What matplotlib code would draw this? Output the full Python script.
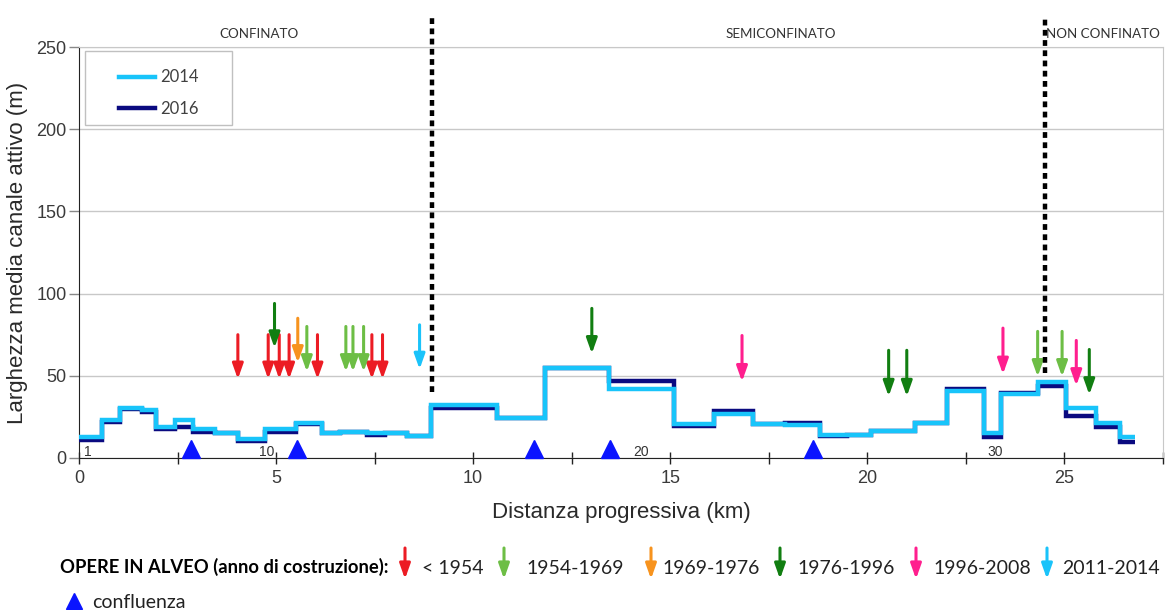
import matplotlib
matplotlib.use("Agg")
import matplotlib.pyplot as plt
from matplotlib.lines import Line2D
from matplotlib.patches import Rectangle, FancyArrowPatch
from matplotlib.ticker import MultipleLocator

# step edges (km) shared by both surveys
edges = [0, 0.58, 1.04, 1.59, 1.95, 2.44, 2.88, 3.45, 4.04, 4.72,
         5.5, 6.16, 6.62, 7.3, 7.77, 8.32, 8.93, 10.6, 11.81, 13.44,
         15.09, 16.1, 17.1, 17.9, 18.79, 19.48, 20.08, 21.2, 22.02, 22.95,
         23.4, 24.33, 25.05, 25.8, 26.4, 26.8]
w2014 = [12.5, 23, 30.5, 29, 19, 23, 17.5, 15.5, 11.5, 17.5,
         21.5, 15.5, 16, 15.5, 15.5, 13.5, 32, 24.5, 55, 42,
         20.5, 27, 20.5, 20, 14, 14, 16.5, 21, 40.5, 15,
         39, 46.5, 30.5, 21, 12.5]
w2016 = [11, 22, 30, 28, 17.5, 19, 16, 15.5, 10.5, 16,
         20.5, 15, 16, 14, 15.5, 13.5, 30.5, 24.5, 55, 47,
         19.5, 28.5, 20.5, 21.5, 13.5, 14, 16.5, 21, 42, 13,
         39.5, 44, 25.5, 19, 10]

# works in river bed: x position, arrow top, arrow tip
arr_cats = ['< 1954', '1954-1969', '1969-1976', '1976-1996', '1996-2008', '2011-2014']
arr_cols = ['#EC1C24', '#6DBE45', '#F7931E', '#117E11', '#FF1F8E', '#1AC3FA']
arr_x = [[4.03, 4.8, 5.08, 5.33, 6.05, 7.43, 7.7],
         [5.78, 6.77, 6.95, 7.22, 24.32, 24.94],
         [5.55],
         [4.96, 13.01, 20.54, 21.0, 25.63],
         [16.82, 23.44, 25.3],
         [8.64]]
arr_top = [[75, 75, 75, 75, 75, 75, 75],
           [80, 80, 80, 80, 77, 77],
           [85],
           [94, 91, 65.5, 65.5, 66],
           [74.5, 79, 71.5],
           [81]]
arr_tip = [[48, 48, 48, 48, 48, 48, 48],
           [52.5, 52.5, 52.5, 52.5, 49.5, 49.5],
           [58],
           [67, 63.5, 37.5, 37.5, 38.5],
           [46.5, 51, 44],
           [54]]

confluences = [2.84, 5.53, 11.55, 13.48, 18.63]

section_x = [0.23, 4.75, 14.27, 23.25]
section_lab = ['1', '10', '20', '30']

bounds = [8.96, 24.5]
bound_low = [40, 52]
regions = ['CONFINATO', 'SEMICONFINATO', 'NON CONFINATO']
region_x = [4.57, 17.8, 25.98]

fig = plt.figure(figsize=(11.68, 6.10), dpi=100)
ax = fig.add_axes([79 / 1168, 1 - 458 / 610, 1084 / 1168, 411 / 610])

ax.set_xlim(0, 27.5)
ax.set_ylim(0, 250)
ax.yaxis.grid(True, color='#c8c8c8', lw=1)
ax.set_axisbelow(True)
ax.xaxis.set_major_locator(MultipleLocator(5))
ax.xaxis.set_minor_locator(MultipleLocator(2.5))
ax.yaxis.set_major_locator(MultipleLocator(50))
ax.tick_params(axis='x', which='both', direction='inout', length=9, width=1, color='#222222',
               labelsize=13, labelcolor='#3a3a3a', pad=4)
ax.tick_params(axis='y', direction='out', length=7, width=1, color='#888888',
               labelsize=13, labelcolor='#3a3a3a', pad=2)
for lab in ax.get_xticklabels() + ax.get_yticklabels():
    lab.set_family('Liberation Sans')
ax.spines['left'].set_color('#222222')
ax.spines['bottom'].set_color('#222222')
ax.spines['top'].set_color('#c8c8c8')
ax.spines['right'].set_color('#c8c8c8')

ax.set_xlabel('Distanza progressiva (km)', fontsize=16, family='Liberation Sans', color='#2a2a2a', labelpad=11)
ax.set_ylabel('Larghezza media canale attivo (m)', fontsize=16, family='Liberation Sans', color='#2a2a2a', labelpad=6)

ax.stairs(w2016, edges, baseline=None, color='#0A0A80', lw=3.2, label='2016', zorder=3)
ax.stairs(w2014, edges, baseline=None, color='#18C4FA', lw=3.2, label='2014', zorder=4)

for xs, tops, tips, c in zip(arr_x, arr_top, arr_tip, arr_cols):
    for x, t0, t1 in zip(xs, tops, tips):
        ax.annotate('', xy=(x, t1), xytext=(x, t0),
                    arrowprops=dict(arrowstyle='-|>,head_length=0.9,head_width=0.32',
                                    color=c, lw=2.2, shrinkA=0, shrinkB=0, mutation_scale=10),
                    zorder=5)

ax.plot(confluences, [5.5] * len(confluences), ls='none', marker='^', ms=13,
        color='#0a14ff', clip_on=False, zorder=6)

for x, s in zip(section_x, section_lab):
    ax.text(x, 3.7, s, fontsize=10, color='#333333', ha='center', va='center', family='Liberation Sans')

for x, lo in zip(bounds, bound_low):
    ax.plot([x, x], [lo, 269], color='black', lw=3.2, ls=(0, (1.3, 1.0)), clip_on=False, zorder=5)

for x, s in zip(region_x, regions):
    ax.text(x, 258, s, fontsize=9.6, color='#333333', ha='center', va='center', family='Lato')

# legend of the two surveys
ax.add_patch(Rectangle(((85 - 79) / 1084, (458 - 125) / 411), 147 / 1084, 74 / 411,
                       transform=ax.transAxes, fill=True, facecolor='white',
                       edgecolor='#c0c0c0', lw=1, zorder=7))
handles = [Line2D([], [], color='#18C4FA', lw=3.2), Line2D([], [], color='#0A0A80', lw=3.2)]
leg = ax.legend(handles, ['2014', '2016'], loc='upper left',
                bbox_to_anchor=((111 - 79) / 1084, (458 - 61) / 411),
                frameon=False, borderpad=0, handlelength=2.15, handletextpad=0.3,
                labelspacing=0.95, prop={'family': 'Lato', 'size': 12})
leg.set_zorder(8)
for t in leg.get_texts():
    t.set_color('#404040')

# bottom legend of works
title = fig.text(60 / 1168, 1 - 567 / 610, 'OPERE IN ALVEO (anno di costruzione):', fontsize=13,
                 fontweight='bold', family='Lato', va='center', ha='left')
fig.canvas.draw()
bb = title.get_window_extent()
title.set_fontsize(13 * 327 / bb.width)

leg_arrow_x = [405, 504, 651, 780, 916, 1047]
leg_text_x = [422, 526, 662, 797, 933, 1062]
for axx, tx, c, s in zip(leg_arrow_x, leg_text_x, arr_cols, arr_cats):
    fig.patches.append(FancyArrowPatch(
        (axx / 1168, 1 - 548 / 610), (axx / 1168, 1 - 579 / 610), transform=fig.transFigure,
        arrowstyle='-|>,head_length=0.9,head_width=0.32', color=c, lw=2.2,
        shrinkA=0, shrinkB=0, mutation_scale=10))
    fig.text(tx / 1168, 1 - 568 / 610, s, fontsize=14, family='Lato', color='#222222',
             va='center', ha='left')

fig.add_artist(Line2D([74 / 1168], [1 - 601 / 610], marker='^', ms=12, color='#0a14ff',
                      ls='none', transform=fig.transFigure))
fig.text(92 / 1168, 1 - 602 / 610, 'confluenza', fontsize=14, family='Lato', color='#222222',
         va='center', ha='left')

fig.savefig('out.png', dpi=100)
